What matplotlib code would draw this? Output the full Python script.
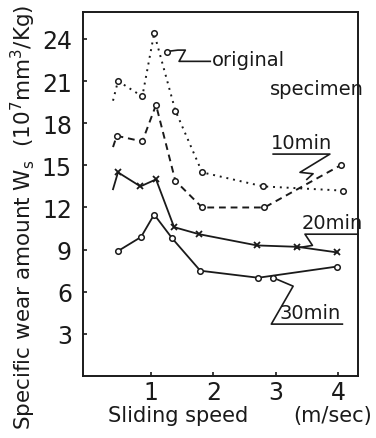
import matplotlib
matplotlib.use("Agg")
import matplotlib.pyplot as plt

# wear vs sliding speed
speed_orig = [0.39, 0.47, 0.86, 1.05, 1.39, 1.82, 2.80, 4.08]
wear_orig = [19.6, 21.0, 19.9, 24.4, 18.9, 14.5, 13.5, 13.2]

speed_10 = [0.39, 0.45, 0.86, 1.08, 1.39, 1.82, 2.82, 4.04]
wear_10 = [16.3, 17.1, 16.7, 19.3, 13.9, 12.0, 12.0, 15.0]

speed_20 = [0.39, 0.47, 0.83, 1.08, 1.37, 1.77, 2.70, 3.35, 3.99]
wear_20 = [13.3, 14.5, 13.5, 14.0, 10.6, 10.1, 9.3, 9.2, 8.8]

speed_30 = [0.47, 0.84, 1.05, 1.34, 1.79, 2.72, 3.99]
wear_30 = [8.9, 9.9, 11.5, 9.8, 7.5, 7.0, 7.8]

xticks = [1, 2, 3, 4]
yticks = [3, 6, 9, 12, 15, 18, 21, 24]

plt.rcParams["font.family"] = "DejaVu Sans"

fig = plt.figure(figsize=(3.76, 4.39), dpi=100)
ax = fig.add_axes([0.221, 0.141, 0.731, 0.829])
ax.set_xlim(-0.09, 4.32)
ax.set_ylim(0, 25.9)

k = "#1a1a1a"
mk = dict(marker="o", ms=4, mfc="white", mec=k, mew=1.1)
ax.plot(speed_orig, wear_orig, color=k, lw=1.4, ls=(0, (1, 2.5)),
        markevery=list(range(1, len(speed_orig))), **mk)
ax.plot(speed_10, wear_10, color=k, lw=1.4, ls=(0, (3.5, 2.5)),
        markevery=list(range(1, len(speed_10))), **mk)
ax.plot(speed_20, wear_20, color=k, lw=1.3, marker="x", ms=5, mew=1.3,
        markevery=list(range(1, len(speed_20))))
ax.plot(speed_30, wear_30, color=k, lw=1.3, **mk)

# hand drawn leader lines (and underlines) to the curve labels
leaders = [
    ([1.25, 1.43, 1.55, 1.45, 1.95], [23.1, 23.2, 23.2, 22.4, 22.4]),
    ([2.96, 3.87, 3.39, 3.60, 3.50], [15.8, 15.8, 14.5, 14.4, 14.0]),
    ([4.32, 3.47, 3.59, 3.31], [10.1, 10.1, 9.3, 9.1]),
    ([4.07, 2.93, 3.28, 2.96], [3.7, 3.7, 6.4, 7.0]),
]
for lx, ly in leaders:
    ax.plot(lx, ly, color=k, lw=1.2, clip_on=False)
ax.plot([1.25, 2.96], [23.1, 7.0], ls="none", **mk)

tk = dict(fontsize=14, color=k)
ax.text(1.98, 22.5, "original", ha="left", va="center", **tk)
ax.text(3.66, 20.5, "specimen", ha="center", va="center", **tk)
ax.text(3.41, 16.6, "10min", ha="center", va="center", **tk)
ax.text(3.90, 10.9, "20min", ha="center", va="center", **tk)
ax.text(3.55, 4.5, "30min", ha="center", va="center", **tk)

ax.set_xticks(xticks)
ax.set_xticklabels([str(v) for v in xticks], fontsize=17)
ax.set_yticks(yticks)
ax.set_yticklabels([str(v) for v in yticks], fontsize=17)
ax.tick_params(direction="in", length=3, width=1.2, color=k, labelcolor=k)
ax.tick_params(axis="y", pad=8)
ax.tick_params(axis="x", pad=3)
for s in ax.spines.values():
    s.set_linewidth(1.4)
    s.set_color(k)

fig.text(0.475, 0.052, "Sliding speed", ha="center", va="center", fontsize=15, color=k)
fig.text(0.885, 0.052, "(m/sec)", ha="center", va="center", fontsize=15, color=k)
fig.text(0.062, 0.505, "Specific wear amount $\\mathrm{W_s}$  (10$^{7}$mm$^3$/Kg)",
         rotation=90, ha="center", va="center", fontsize=15.5, color=k)

fig.savefig("out.png", dpi=100)
